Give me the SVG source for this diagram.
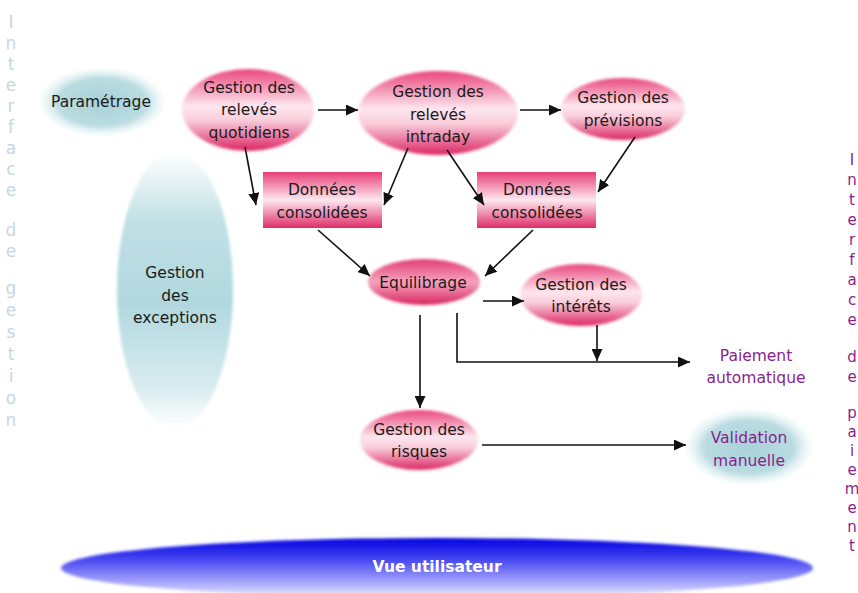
<svg xmlns="http://www.w3.org/2000/svg" width="858" height="593" viewBox="0 0 858 593">
<defs>
<linearGradient id="pink" x1="0" y1="0" x2="0" y2="1">
<stop offset="0" stop-color="#e9457c"/>
<stop offset="0.45" stop-color="#fde6ee"/>
<stop offset="0.62" stop-color="#f9cfdc"/>
<stop offset="1" stop-color="#dc2563"/>
</linearGradient>
<linearGradient id="pinkRect" x1="0" y1="0" x2="0" y2="1">
<stop offset="0" stop-color="#e83f78"/>
<stop offset="0.5" stop-color="#fde8ef"/>
<stop offset="1" stop-color="#df2d68"/>
</linearGradient>
<linearGradient id="pinkDeep" x1="0" y1="0" x2="0" y2="1">
<stop offset="0" stop-color="#e23a72"/>
<stop offset="0.5" stop-color="#f6a3bf"/>
<stop offset="1" stop-color="#d8235f"/>
</linearGradient>
<radialGradient id="teal" cx="0.5" cy="0.5" r="0.5">
<stop offset="0" stop-color="#a8d2d9"/>
<stop offset="0.7" stop-color="#b9dce1"/>
<stop offset="1" stop-color="#e8f4f6" stop-opacity="0.2"/>
</radialGradient>
<linearGradient id="tealV" x1="0" y1="0" x2="0" y2="1">
<stop offset="0" stop-color="#ffffff"/>
<stop offset="0.25" stop-color="#c0e0e5"/>
<stop offset="0.55" stop-color="#b0d8de"/>
<stop offset="0.85" stop-color="#d8ecef"/>
<stop offset="1" stop-color="#ffffff"/>
</linearGradient>
<linearGradient id="blue" x1="0" y1="0" x2="0" y2="1">
<stop offset="0" stop-color="#0000e0"/>
<stop offset="0.35" stop-color="#4444f2"/>
<stop offset="0.75" stop-color="#a8a8fa"/>
<stop offset="1" stop-color="#f2f2ff"/>
</linearGradient>
<filter id="soft" x="-10%" y="-10%" width="120%" height="120%">
<feGaussianBlur stdDeviation="1.6"/>
</filter>
<marker id="arr" markerUnits="userSpaceOnUse" markerWidth="13" markerHeight="11" refX="12" refY="5.5" orient="auto">
<path d="M0,0 L12,5.5 L0,11 z" fill="#111"/>
</marker>
</defs>
<style>
.t{font-family:"DejaVu Sans","Liberation Sans",sans-serif;font-size:15.5px;fill:#1a1a1a;text-anchor:middle}
.p{font-family:"DejaVu Sans","Liberation Sans",sans-serif;font-size:15.5px;fill:#8a1f8e;text-anchor:middle}
.vl{font-family:"DejaVu Sans","Liberation Sans",sans-serif;font-size:17px;fill:#c7d7de;text-anchor:middle}
.vr{font-family:"DejaVu Sans","Liberation Sans",sans-serif;font-size:15px;fill:#8a1f8e;text-anchor:middle}
.c{fill:none;stroke:#111;stroke-width:1.6}
</style>
<rect width="858" height="593" fill="#ffffff"/>

<g id="interface-gestion">
<text class="vl" x="11" y="28">I</text>
<text class="vl" x="11" y="49">n</text>
<text class="vl" x="11" y="70">t</text>
<text class="vl" x="11" y="91">e</text>
<text class="vl" x="11" y="112">r</text>
<text class="vl" x="11" y="133">f</text>
<text class="vl" x="11" y="154">a</text>
<text class="vl" x="11" y="175">c</text>
<text class="vl" x="11" y="196">e</text>
<text class="vl" x="11" y="236">d</text>
<text class="vl" x="11" y="257">e</text>
<text class="vl" x="11" y="294">g</text>
<text class="vl" x="11" y="316">e</text>
<text class="vl" x="11" y="338">s</text>
<text class="vl" x="11" y="360">t</text>
<text class="vl" x="11" y="382">i</text>
<text class="vl" x="11" y="404">o</text>
<text class="vl" x="11" y="426">n</text>
</g>

<g id="interface-paiement">
<text class="vr" x="852" y="165">I</text>
<text class="vr" x="852" y="185">n</text>
<text class="vr" x="852" y="205">t</text>
<text class="vr" x="852" y="225">e</text>
<text class="vr" x="852" y="245">r</text>
<text class="vr" x="852" y="265">f</text>
<text class="vr" x="852" y="285">a</text>
<text class="vr" x="852" y="305">c</text>
<text class="vr" x="852" y="325">e</text>
<text class="vr" x="852" y="362">d</text>
<text class="vr" x="852" y="382">e</text>
<text class="vr" x="852" y="418">p</text>
<text class="vr" x="852" y="437">a</text>
<text class="vr" x="852" y="456">i</text>
<text class="vr" x="852" y="475">e</text>
<text class="vr" x="852" y="494">m</text>
<text class="vr" x="852" y="513">e</text>
<text class="vr" x="852" y="532">n</text>
<text class="vr" x="852" y="551">t</text>
</g>

<g id="vue-utilisateur">
<ellipse cx="437" cy="568" rx="376" ry="30" fill="url(#blue)" filter="url(#soft)"/>
<text x="437" y="572" style="font-family:'DejaVu Sans','Liberation Sans',sans-serif;font-size:15.5px;font-weight:bold;fill:#ffffff;text-anchor:middle">Vue utilisateur</text>
</g>

<g id="parametrage">
<ellipse cx="102" cy="102" rx="63" ry="34" fill="url(#teal)" filter="url(#soft)"/>
<text class="t" x="101" y="107">Paramétrage</text>
</g>

<g id="exceptions">
<ellipse cx="175" cy="290" rx="58" ry="138" fill="url(#tealV)" filter="url(#soft)"/>
<text class="t" x="175" y="278">Gestion</text>
<text class="t" x="175" y="301">des</text>
<text class="t" x="175" y="323">exceptions</text>
</g>

<g id="quotidiens">
<ellipse cx="248" cy="110" rx="66" ry="41" fill="url(#pink)" filter="url(#soft)"/>
<text class="t" x="249" y="93">Gestion des</text>
<text class="t" x="249" y="115">relevés</text>
<text class="t" x="249" y="138">quotidiens</text>
</g>

<g id="intraday">
<ellipse cx="438" cy="113" rx="80" ry="42" fill="url(#pink)" filter="url(#soft)"/>
<text class="t" x="438" y="97">Gestion des</text>
<text class="t" x="438" y="120">relevés</text>
<text class="t" x="438" y="142">intraday</text>
</g>

<g id="previsions">
<ellipse cx="623" cy="109" rx="62" ry="31" fill="url(#pink)" filter="url(#soft)"/>
<text class="t" x="623" y="103">Gestion des</text>
<text class="t" x="623" y="126">prévisions</text>
</g>

<g id="donnees1">
<rect x="263" y="172" width="119" height="56" fill="url(#pinkRect)"/>
<text class="t" x="322" y="195">Données</text>
<text class="t" x="322" y="218">consolidées</text>
</g>

<g id="donnees2">
<rect x="477" y="172" width="119" height="56" fill="url(#pinkRect)"/>
<text class="t" x="537" y="195">Données</text>
<text class="t" x="537" y="218">consolidées</text>
</g>

<g id="equilibrage">
<ellipse cx="424" cy="282" rx="56" ry="23" fill="url(#pinkDeep)" filter="url(#soft)"/>
<text class="t" x="423" y="288">Equilibrage</text>
</g>

<g id="interets">
<ellipse cx="581" cy="295" rx="61" ry="31" fill="url(#pink)" filter="url(#soft)"/>
<text class="t" x="581" y="290">Gestion des</text>
<text class="t" x="581" y="312">intérêts</text>
</g>

<g id="risques">
<ellipse cx="419" cy="440" rx="59" ry="30" fill="url(#pink)" filter="url(#soft)"/>
<text class="t" x="419" y="435">Gestion des</text>
<text class="t" x="419" y="457">risques</text>
</g>

<g id="paiement">
<text class="p" x="756" y="361">Paiement</text>
<text class="p" x="756" y="383">automatique</text>
</g>

<g id="validation">
<ellipse cx="749" cy="447" rx="64" ry="38" fill="url(#teal)" filter="url(#soft)"/>
<text class="p" x="749" y="443">Validation</text>
<text class="p" x="749" y="466">manuelle</text>
</g>

<g id="connectors">
<line class="c" x1="318" y1="110" x2="358" y2="110" marker-end="url(#arr)"/>
<line class="c" x1="520" y1="110" x2="561" y2="110" marker-end="url(#arr)"/>
<line class="c" x1="245" y1="147" x2="256" y2="205" marker-end="url(#arr)"/>
<line class="c" x1="408" y1="148" x2="384" y2="205" marker-end="url(#arr)"/>
<line class="c" x1="447" y1="150" x2="484" y2="205" marker-end="url(#arr)"/>
<line class="c" x1="635" y1="137" x2="598" y2="192" marker-end="url(#arr)"/>
<line class="c" x1="318" y1="230" x2="370" y2="276" marker-end="url(#arr)"/>
<line class="c" x1="533" y1="230" x2="485" y2="276" marker-end="url(#arr)"/>
<line class="c" x1="483" y1="301" x2="524" y2="301" marker-end="url(#arr)"/>
<line class="c" x1="420" y1="315" x2="420" y2="408" marker-end="url(#arr)"/>
<polyline class="c" points="457,313 457,362 690,362" marker-end="url(#arr)"/>
<line class="c" x1="597" y1="325" x2="597" y2="361" marker-end="url(#arr)"/>
<line class="c" x1="482" y1="445" x2="686" y2="445" marker-end="url(#arr)"/>
</g>
</svg>
